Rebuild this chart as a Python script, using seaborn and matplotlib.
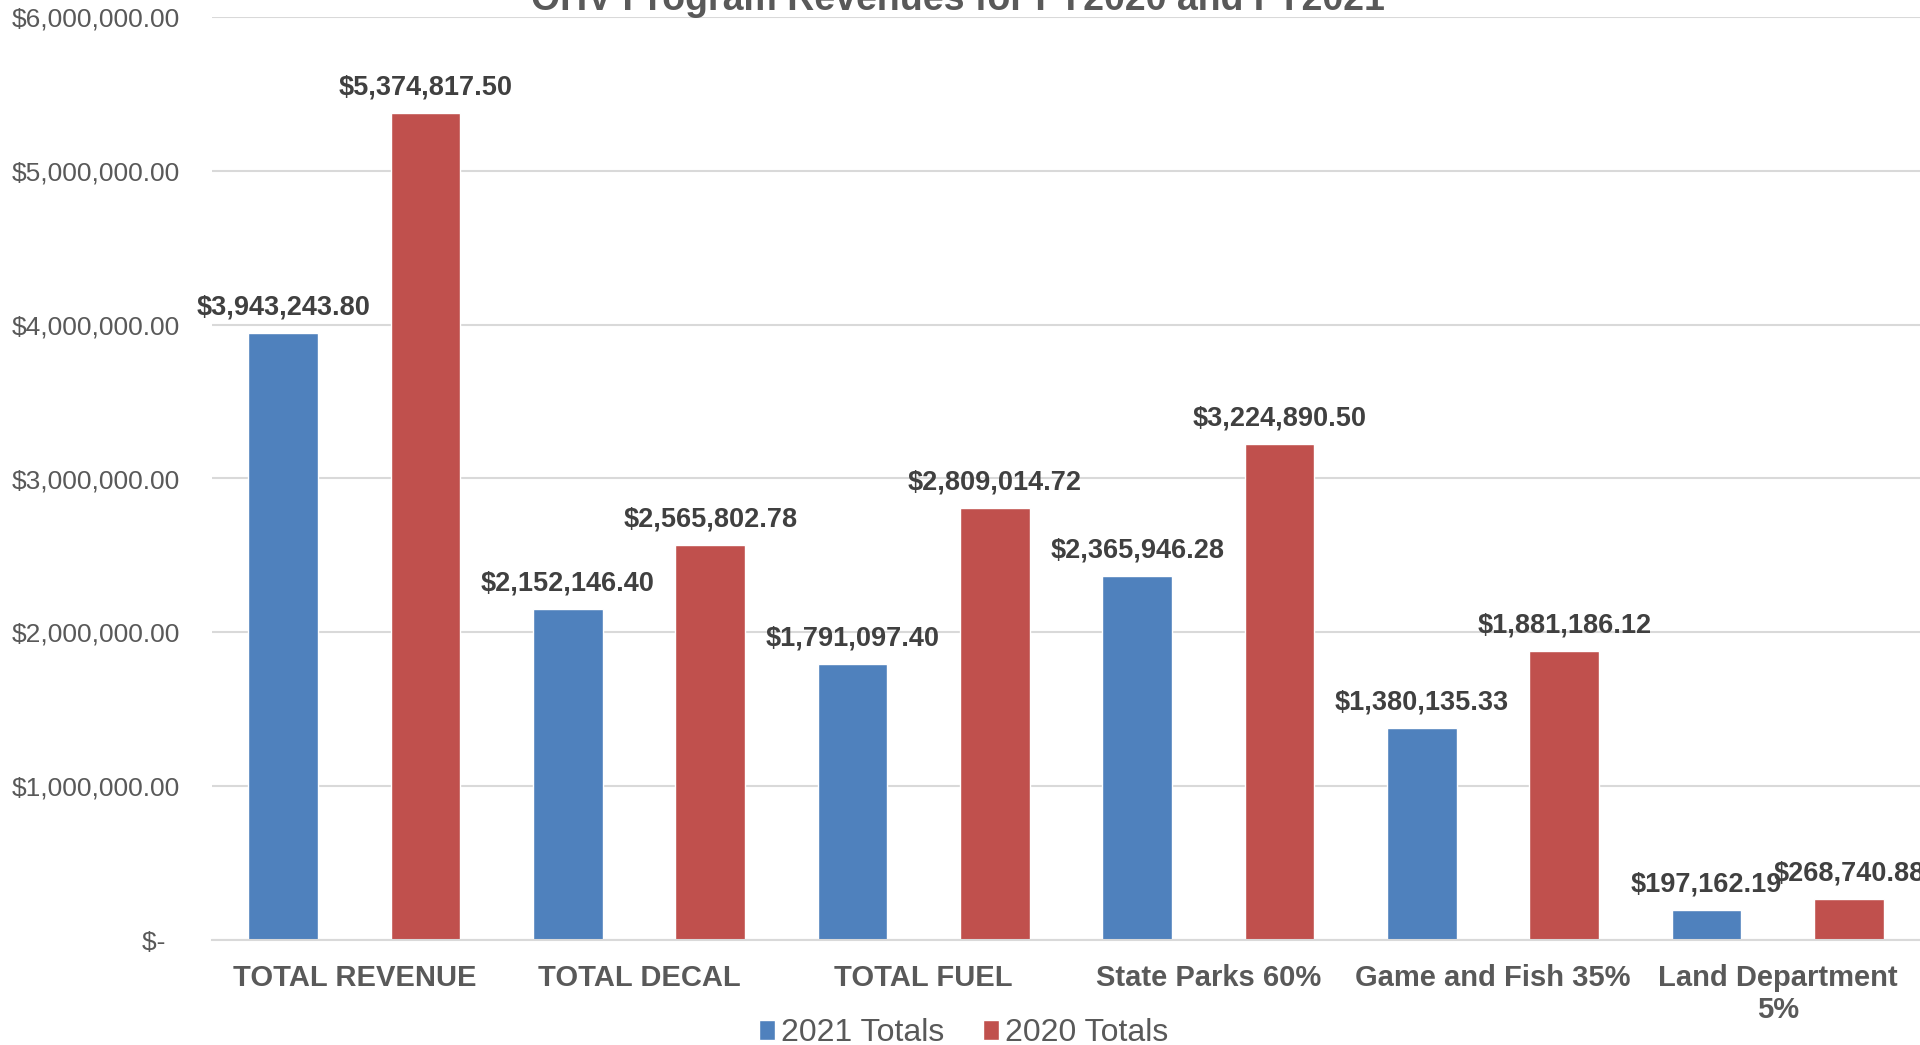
import pandas as pd
import numpy as np
import matplotlib
matplotlib.use('Agg')
import matplotlib.pyplot as plt
import seaborn as sns

# Data
categories = ['TOTAL REVENUE', 'TOTAL DECAL', 'TOTAL FUEL', 'State Parks 60%',
              'Game and Fish 35%', 'Land Department\n5%']
series_names = ['2021 Totals', '2020 Totals']
totals_2021 = [3943243.80, 2152146.40, 1791097.40, 2365946.28, 1380135.33, 197162.19]
totals_2020 = [5374817.50, 2565802.78, 2809014.72, 3224890.50, 1881186.12, 268740.88]
y_ticks = [0, 1000000, 2000000, 3000000, 4000000, 5000000, 6000000]
title = 'OHV Program Revenues for FY2020 and FY2021'

# Long format for seaborn
df = pd.DataFrame({
    'category': categories * 2,
    'series': [series_names[0]] * len(categories) + [series_names[1]] * len(categories),
    'value': totals_2021 + totals_2020,
})

sns.set_theme(style='white')
plt.rcParams['font.family'] = ['Liberation Sans', 'DejaVu Sans']

fig = plt.figure(figsize=(19.2, 10.45), dpi=100)
ax = fig.add_axes([212 / 1920, 1 - 940 / 1045, 1 - 212 / 1920, (940 - 17) / 1045])

sns.barplot(data=df, x='category', y='value', hue='series', order=categories,
            hue_order=series_names, palette=['#4F81BD', '#C0504D'], saturation=1,
            width=1.0, gap=0.51, errorbar=None, ax=ax)

# value labels above the bars
for cont, vals in zip(ax.containers, [totals_2021, totals_2020]):
    ax.bar_label(cont, labels=[f'${v:,.2f}' for v in vals], padding=9,
                 fontsize=19.5, fontweight='bold', color='#404040')

ax.set_ylim(0, 6000000)
ax.set_xlim(-0.5, len(categories) - 0.5)
ax.set_yticks(y_ticks)
ax.set_yticklabels(['$-  ' if t == 0 else f'${t:,.2f}' for t in y_ticks])
ax.set_xlabel('')
ax.set_ylabel('')

ax.yaxis.grid(True, color='#D9D9D9', linewidth=1.5)
ax.set_axisbelow(True)
for s in ['top', 'left', 'right']:
    ax.spines[s].set_visible(False)
ax.spines['bottom'].set_color('#D9D9D9')
ax.spines['bottom'].set_linewidth(1.5)

ax.tick_params(axis='y', length=0, pad=23, labelsize=19, labelcolor='#595959')
ax.tick_params(axis='x', length=0, pad=17, labelsize=21, labelcolor='#595959')
for lbl in ax.get_xticklabels():
    lbl.set_fontweight('bold')

# legend at the bottom of the figure
handles, labels = ax.get_legend_handles_labels()
ax.get_legend().remove()
fig.legend(handles, labels, loc='center', bbox_to_anchor=(0.502, 1 - 1033 / 1045),
           ncol=2, frameon=False, fontsize=23, labelcolor='#595959',
           handlelength=0.5, handleheight=0.6, handletextpad=0.2, columnspacing=1.2)

# title is cut off at the top edge in the original
fig.text(0.499, 1 - 10 / 1045, title, ha='center', va='baseline',
         fontsize=27, fontweight='bold', color='#595959')

fig.savefig('out.png', dpi=100)
